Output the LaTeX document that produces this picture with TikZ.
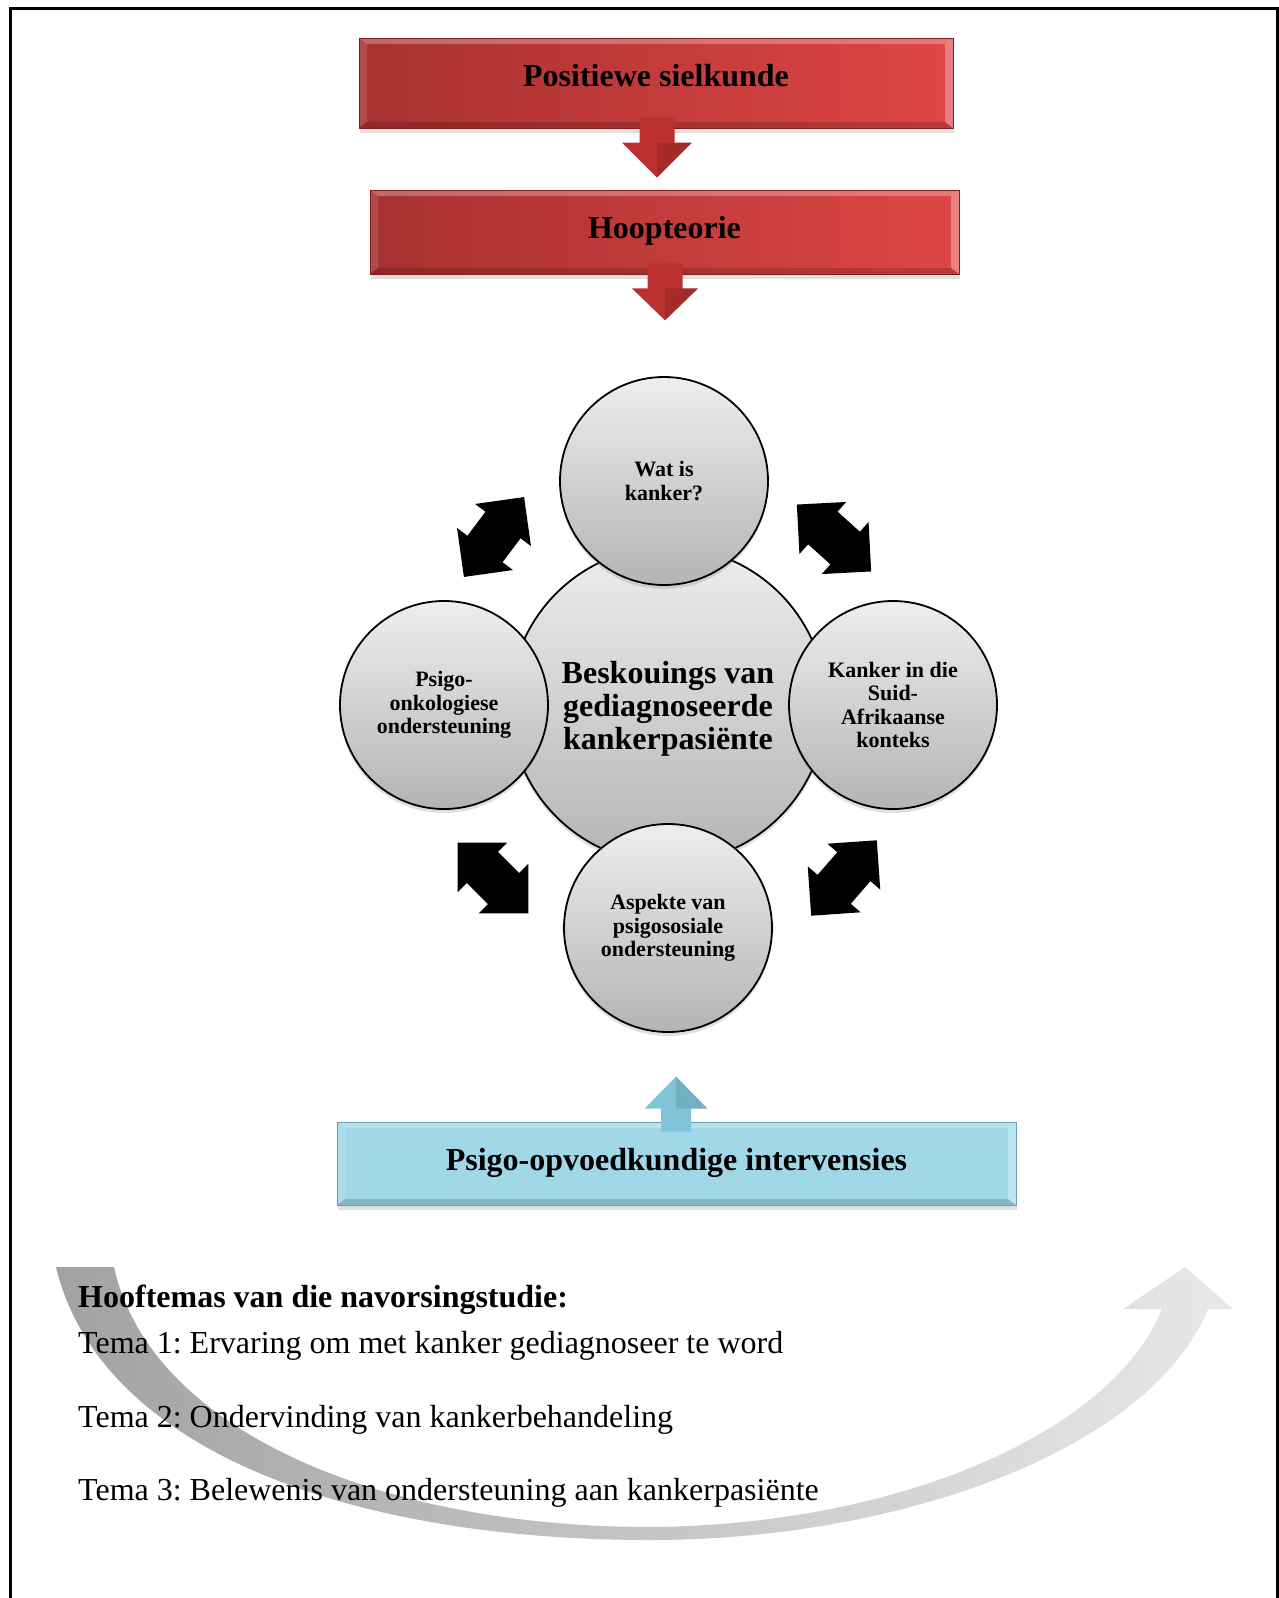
\documentclass[tikz,border=0pt]{standalone}
\usepackage{fontspec}
\setmainfont{Liberation Serif}
\usetikzlibrary{calc,shadows}
\frenchspacing

\definecolor{redL}{RGB}{168,48,48}
\definecolor{redR}{RGB}{222,70,70}
\definecolor{redEdge}{RGB}{130,30,30}
\definecolor{arrowDark}{RGB}{188,48,48}
\definecolor{arrowLight}{RGB}{238,112,112}
\definecolor{blueFill}{RGB}{160,216,232}
\definecolor{blueEdge}{RGB}{105,160,180}
\definecolor{blueLight}{RGB}{212,240,248}
\definecolor{blueDark}{RGB}{128,196,216}
\definecolor{discTop}{RGB}{238,238,238}
\definecolor{discBot}{RGB}{180,180,180}
\definecolor{bandL}{RGB}{162,162,162}
\definecolor{bandR}{RGB}{232,232,232}

% light and dark faces along the rim of a raised box
\newcommand\boxbevel{%
  \fill[white,opacity=.28] (path picture bounding box.north west) -- (path picture bounding box.north east)
     -- ($(path picture bounding box.north east)+(-8,6)$) -- ($(path picture bounding box.north west)+(8,6)$) -- cycle;
  \fill[white,opacity=.12] (path picture bounding box.north west) -- ($(path picture bounding box.north west)+(8,6)$)
     -- ($(path picture bounding box.south west)+(8,-6)$) -- (path picture bounding box.south west) -- cycle;
  \fill[white,opacity=.32] (path picture bounding box.north east) -- ($(path picture bounding box.north east)+(-8,6)$)
     -- ($(path picture bounding box.south east)+(-8,-6)$) -- (path picture bounding box.south east) -- cycle;
  \fill[black,opacity=.16] (path picture bounding box.south west) -- ($(path picture bounding box.south west)+(8,-6)$)
     -- ($(path picture bounding box.south east)+(-8,-6)$) -- (path picture bounding box.south east) -- cycle;}

% block arrow pointing down: #1 shaft top, #2 tip, #3 half shaft, #4 half head, #5 head length, #6 style
\newcommand\blockdown[6]{%
  \shade[#6] ($(#1)+(-#3,0)$) -- ($(#1)+(#3,0)$) -- ($(#2)+(#3,-#5)$) -- ($(#2)+(#4,-#5)$)
     -- (#2) -- ($(#2)+(-#4,-#5)$) -- ($(#2)+(-#3,-#5)$) -- cycle;
  \fill[black,opacity=.12] (#2) -- ($(#2)+(#4,-#5)$) -- ($(#2)+(0,-#5)$) -- cycle;}

\begin{document}
\begin{tikzpicture}[x=1pt,y=-1pt,
  redbox/.style={draw=redEdge,line width=.8pt,left color=redL,right color=redR,
     inner sep=0pt,font=\fontsize{32}{34}\selectfont\bfseries,text height=22pt,
     drop shadow={opacity=.25,shadow xshift=1pt,shadow yshift=-5pt},
     path picture={\boxbevel}},
  bluebox/.style={draw=blueEdge,line width=.8pt,fill=blueFill,
     inner sep=0pt,font=\fontsize{32}{34}\selectfont\bfseries,text height=22pt,
     drop shadow={opacity=.25,shadow xshift=1pt,shadow yshift=-5pt},
     path picture={\boxbevel}},
  disc/.style={circle,draw=black,line width=1.8pt,top color=discTop,bottom color=discBot,
     inner sep=0pt,align=center,
     drop shadow={opacity=.25,shadow xshift=0pt,shadow yshift=-4pt}},
  smalldisc/.style={disc,minimum size=208pt,font=\fontsize{22}{23.5}\selectfont\bfseries},
  redarrow/.style={left color=arrowDark,middle color=arrowLight,right color=arrowDark},
  bluearrow/.style={left color=blueDark,middle color=blueLight,right color=blueDark},
  theme/.style={anchor=base west,inner sep=0pt,font=\fontsize{32}{34}\selectfont},
  duo/.pic={\fill[black] (-50,0) -- (-15,35) -- (-15,22) -- (15,22) -- (15,35) -- (50,0)
     -- (15,-35) -- (15,-22) -- (-15,-22) -- (-15,-35) -- cycle;}
]
\useasboundingbox (0,0) rectangle (1279,1598);

% page frame, open at the bottom
\draw[line width=3pt] (10,1610) -- (10,8) -- (1277,8) -- (1277,1610);

% theory chain at the top
\node[redbox,minimum width=594pt,minimum height=90pt,text depth=16pt] (pos) at (656,83) {Positiewe sielkunde};
\node[redbox,minimum width=589pt,minimum height=84pt,text depth=10pt] (hope) at (664.5,232) {Hoopteorie};
\coordinate (r1a) at ($(pos.south)+(1,-11)$);
\coordinate (r1b) at ($(hope.north)+(-7.5,-12)$);
\blockdown{r1a}{r1b}{17.5}{35}{35}{redarrow}
\coordinate (r2a) at ($(hope.south)+(0.5,-11)$);
\coordinate (r2b) at ($(hope.south)+(0.5,46)$);
\blockdown{r2a}{r2b}{17.5}{33}{32}{redarrow}

% central view with its four surrounding aspects
\node[disc,minimum size=316pt,font=\fontsize{32}{33}\selectfont\bfseries,text depth=0pt] (core) at (668,705)
  {Beskouings van\\gediagnoseerde\\kankerpasiënte};
\node[smalldisc] (top) at (664,481) {Wat is\\kanker?};
\node[smalldisc] (left) at (444,705) {Psigo-\\onkologiese\\ondersteuning};
\node[smalldisc] (right) at (893,705) {Kanker in die\\Suid-\\Afrikaanse\\konteks};
\node[smalldisc] (bottom) at (668,928) {Aspekte van\\psigososiale\\ondersteuning};

% two-way arrows between neighbouring aspects
\pic[rotate=53] (dtl) at (494,537) {duo};
\pic[rotate=-42] (dtr) at (834,538) {duo};
\pic[rotate=-45] (dbl) at (493,878) {duo};
\pic[rotate=49] (dbr) at (844,878) {duo};

% interventions feeding back into the model
\node[bluebox,minimum width=679pt,minimum height=83pt,text depth=9pt] (intv) at (676.5,1163.5)
  {Psigo-opvoedkundige intervensies};
\coordinate (b1a) at ($(intv.north)+(-0.5,10)$);
\coordinate (b1b) at ($(intv.north)+(-0.5,-45)$);
\shade[bluearrow] ($(b1a)+(-15,0)$) -- ($(b1a)+(15,0)$) -- ($(b1b)+(15,32)$) -- ($(b1b)+(31.5,32)$)
   -- (b1b) -- ($(b1b)+(-31.5,32)$) -- ($(b1b)+(-15,32)$) -- cycle;
\fill[black,opacity=.1] (b1b) -- ($(b1b)+(31.5,32)$) -- ($(b1b)+(0,32)$) -- cycle;

% sweeping grey arrow under the research themes
\shade[left color=bandL,right color=bandR]
  (56,1267) .. controls (100,1450) and (350,1540) .. (650,1540)
  .. controls (900,1540) and (1150,1450) .. (1208,1309)
  -- (1233,1309) -- (1185,1267) -- (1123,1309) -- (1162,1309)
  .. controls (1112,1432) and (900,1525) .. (650,1527)
  .. controls (380,1527) and (150,1430) .. (114,1267) -- cycle;

% research themes
\node[theme,font=\fontsize{32}{34}\selectfont\bfseries] (head) at (78,1307) {Hooftemas van die navorsingstudie:};
\node[theme] (t1) at (78,1353) {Tema 1: Ervaring om met kanker gediagnoseer te word};
\node[theme] (t2) at (78,1427) {Tema 2: Ondervinding van kankerbehandeling};
\node[theme] (t3) at (78,1500) {Tema 3: Belewenis van ondersteuning aan kankerpasiënte};
\end{tikzpicture}
\end{document}
